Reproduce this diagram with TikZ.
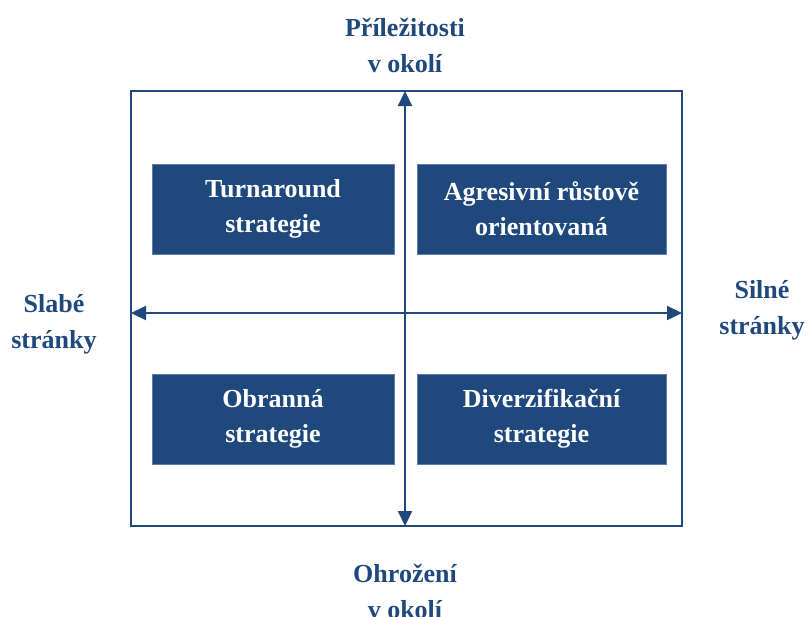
\documentclass[tikz,border=0pt]{standalone}
\usepackage{fontspec}
\setmainfont{Liberation Serif}
\usetikzlibrary{arrows.meta}
\definecolor{navy}{HTML}{1F497D}
\definecolor{edgeblue}{HTML}{5A7FAE}
\tikzset{
  quad/.style={draw=edgeblue, line width=0.8pt, fill=navy, text=white, font=\fontsize{26}{35}\selectfont\bfseries, align=center, minimum width=242pt, minimum height=90pt, inner sep=0pt},
  axislabel/.style={text=navy, font=\fontsize{26}{36}\selectfont\bfseries, align=center, inner sep=0pt},
  axis/.style={draw=navy, line width=2.2pt, {Triangle[length=15pt,width=14pt]}-{Triangle[length=15pt,width=14pt]}},
  frame/.style={draw=navy, line width=2pt}
}
\begin{document}
\begin{tikzpicture}[x=1pt,y=-1pt]
\useasboundingbox (0,0) rectangle (808,616);
\draw[frame] (131,91) rectangle (682,526);
\coordinate (top) at (405,91);
\coordinate (bot) at (405,526);
\coordinate (lft) at (131,313);
\coordinate (rgt) at (682,313);
\node[quad] (tl) at (273,209) {Turnaround\\strategie};
\node[quad, minimum width=249pt] (tr) at (541.5,209) {Agresivní růstově\\orientovaná};
\node[quad] (bl) at (273,419) {Obranná\\strategie};
\node[quad, minimum width=249pt] (br) at (541.5,419) {Diverzifikační\\strategie};
\draw[axis] (bot) -- (top);
\draw[axis] (lft) -- (rgt);
\node[axislabel] (opp) at (405,45) {Příležitosti\\v okolí};
\node[axislabel] (thr) at (405,591) {Ohrožení\\v okolí};
\node[axislabel] (weak) at (54,324) {Slabé\\stránky};
\node[axislabel] (strong) at (762,310) {Silné\\stránky};
\end{tikzpicture}
\end{document}
